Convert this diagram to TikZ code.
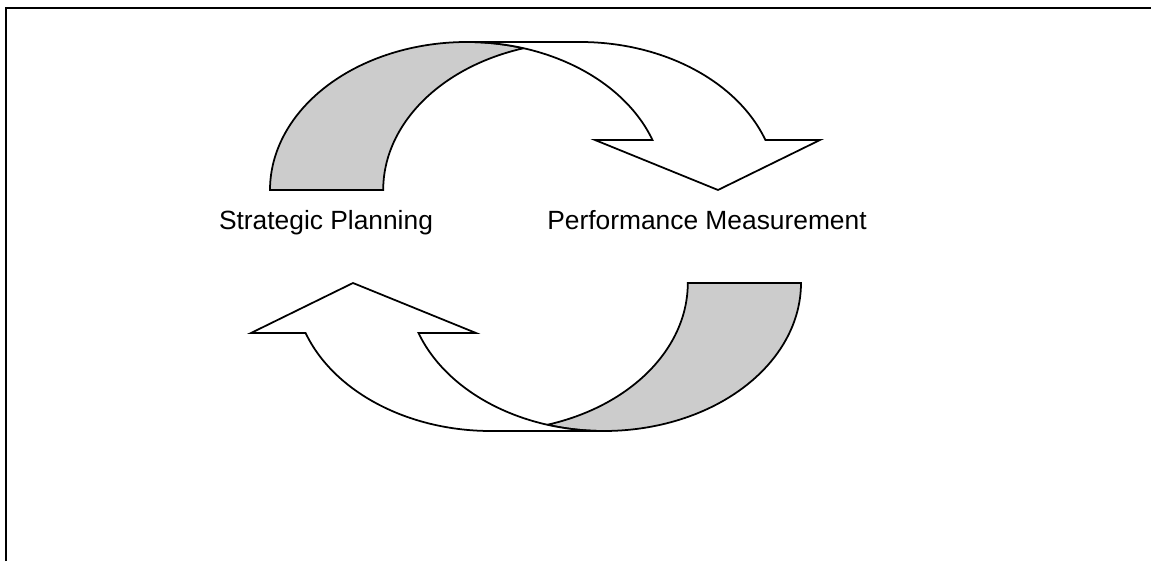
\documentclass[tikz,border=0pt]{standalone}
\usepackage{fontspec}
\setmainfont{Liberation Sans}
\definecolor{shadegray}{gray}{0.8}
\tikzset{
  band/.style={draw=black,line width=1pt,fill=white,line join=miter},
  twist/.style={band,fill=shadegray},
  phase/.style={font=\fontsize{15}{18}\selectfont,anchor=base}
}
% one curved arrow: shaded underside, then the front with its head
\newcommand{\turnarrow}{%
  \draw[twist] (5.40,7.42)
    arc[start angle=180,end angle=73.3,x radius=3.94,y radius=2.96]
    arc[start angle=106.7,end angle=180,x radius=3.94,y radius=2.96] -- cycle;
  \draw[band] (9.34,10.38) -- (11.60,10.38)
    arc[start angle=90,end angle=19.75,x radius=3.94,y radius=2.96]
    -- (16.40,8.42) -- (14.36,7.42) -- (11.90,8.42) -- (13.05,8.42)
    arc[start angle=19.75,end angle=90,x radius=3.94,y radius=2.96] -- cycle;
}
\begin{document}
\begin{tikzpicture}
        \useasboundingbox (0,0) rectangle (23.02,11.22);
        % frame, top and left side only
        \draw[line width=1.6pt] (0.12,0) -- (0.12,11.06) -- (23.02,11.06);
        % upper arrow
        \turnarrow
        % lower arrow, same shape turned round
        \begin{scope}[rotate around={180:(10.71,6.49)}]
          \turnarrow
        \end{scope}
        \node[phase] (strategic) at (6.52,6.62) {Strategic Planning};
        \node[phase] (measure) at (14.14,6.62) {Performance Measurement};
        %\node[phase] at (10.71,2) {};
      \end{tikzpicture}
\end{document}
